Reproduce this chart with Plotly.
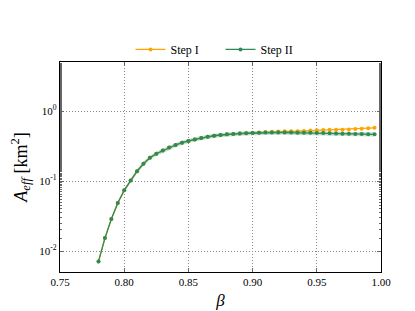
import plotly.graph_objects as go

beta = [0.780, 0.785, 0.790, 0.795, 0.800, 0.805, 0.810, 0.815, 0.820, 0.825,
        0.830, 0.835, 0.840, 0.845, 0.850, 0.855, 0.860, 0.865, 0.870, 0.875,
        0.880, 0.885, 0.890, 0.895, 0.900, 0.905, 0.910, 0.915, 0.920, 0.925,
        0.930, 0.935, 0.940, 0.945, 0.950, 0.955, 0.960, 0.965, 0.970, 0.975,
        0.980, 0.985, 0.990, 0.995]

step2 = [0.0071, 0.0153, 0.0286, 0.0485, 0.0736, 0.102, 0.138, 0.177, 0.215, 0.245,
         0.272, 0.300, 0.327, 0.352, 0.374, 0.393, 0.411, 0.429, 0.443, 0.454,
         0.464, 0.470, 0.476, 0.481, 0.485, 0.489, 0.491, 0.492, 0.492, 0.492,
         0.491, 0.490, 0.489, 0.488, 0.486, 0.484, 0.481, 0.478, 0.475, 0.472,
         0.470, 0.468, 0.466, 0.465]

step1 = [0.0071, 0.0153, 0.0286, 0.0485, 0.0736, 0.102, 0.138, 0.177, 0.215, 0.245,
         0.272, 0.300, 0.327, 0.352, 0.374, 0.393, 0.411, 0.429, 0.443, 0.454,
         0.464, 0.470, 0.476, 0.481, 0.487, 0.492, 0.500, 0.505, 0.510, 0.512,
         0.513, 0.515, 0.520, 0.525, 0.530, 0.535, 0.538, 0.540, 0.540, 0.545,
         0.553, 0.560, 0.568, 0.575]

# relative half-width of the Step II uncertainty band
rel_err = [0.01, 0.02, 0.03, 0.04, 0.05, 0.06, 0.07, 0.07, 0.07, 0.07,
           0.07, 0.07, 0.07, 0.07, 0.07, 0.07, 0.07, 0.07, 0.07, 0.07,
           0.07, 0.07, 0.07, 0.07, 0.07, 0.07, 0.07, 0.07, 0.07, 0.07,
           0.07, 0.07, 0.07, 0.07, 0.07, 0.07, 0.07, 0.07, 0.07, 0.07,
           0.07, 0.07, 0.07, 0.07]

xticks = [0.75, 0.80, 0.85, 0.90, 0.95, 1.00]
xticklabels = ["0.75", "0.80", "0.85", "0.90", "0.95", "1.00"]
yticks = [0.01, 0.1, 1.0]
yticklabels = ["10<sup>-2</sup>", "10<sup>-1</sup>", "10<sup>0</sup>"]

ORANGE = "#FFA500"
GREEN = "#2E8B57"

hi = [v * (1 + e) for v, e in zip(step2, rel_err)]
lo = [v * (1 - e) for v, e in zip(step2, rel_err)]

fig = go.Figure()
fig.add_trace(go.Scatter(x=beta, y=step1, mode="lines+markers", name="Step I",
                         line=dict(color=ORANGE, width=1.3),
                         marker=dict(color=ORANGE, size=4)))
fig.add_trace(go.Scatter(x=beta, y=hi, mode="lines", line=dict(width=0),
                         showlegend=False, hoverinfo="skip"))
fig.add_trace(go.Scatter(x=beta, y=lo, mode="lines", line=dict(width=0),
                         fill="tonexty", fillcolor="rgba(46,139,87,0.28)",
                         showlegend=False, hoverinfo="skip"))
fig.add_trace(go.Scatter(x=beta, y=step2, mode="lines+markers", name="Step II",
                         line=dict(color=GREEN, width=1.3),
                         marker=dict(color=GREEN, size=4)))

font = "Liberation Serif, Times New Roman, serif"
fig.update_layout(
    width=415, height=311,
    margin=dict(l=52, r=42, t=54, b=47),
    paper_bgcolor="white", plot_bgcolor="white",
    font=dict(family=font, size=11, color="black"),
    legend=dict(orientation="h", x=0.5, xanchor="center", y=1.06, yanchor="middle",
                font=dict(size=12), bgcolor="rgba(0,0,0,0)", traceorder="normal",
                itemwidth=30, entrywidth=45),
    showlegend=True,
)
fig.update_xaxes(
    range=[0.75, 1.0], tickvals=xticks, ticktext=xticklabels,
    showline=True, linecolor="black", linewidth=1.2, mirror="allticks",
    ticks="inside", ticklen=4, tickcolor="#666",
    showgrid=True, gridcolor="#888", griddash="1px,2px", gridwidth=1,
    zeroline=False, tickfont=dict(size=11),
    title=dict(text="<i>β</i>", font=dict(size=17), standoff=6),
)
fig.update_yaxes(
    type="log", range=[-2.3, 0.7], tickvals=yticks, ticktext=yticklabels,
    showline=True, linecolor="black", linewidth=1.2, mirror="allticks",
    ticks="inside", ticklen=4, tickcolor="#666",
    minor=dict(ticks="inside", ticklen=2, tickcolor="#666", showgrid=False),
    showgrid=True, gridcolor="#888", griddash="1px,2px", gridwidth=1,
    zeroline=False, tickfont=dict(size=11),
    title=dict(text="<i>A</i><sub><i>eff</i></sub> [km<sup>2</sup>]", font=dict(size=18), standoff=8),
)

fig.write_html("out.html")
